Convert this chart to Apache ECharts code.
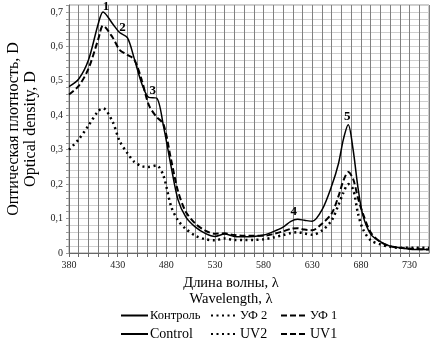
<!DOCTYPE html>
<html>
<head>
<meta charset="utf-8">
<script src="https://cdn.jsdelivr.net/npm/echarts@6/dist/echarts.min.js"></script>
<style>
  html, body { margin: 0; padding: 0; background: #fff; }
  #chart { width: 438px; height: 343px; }
</style>
</head>
<body>
<div id="chart"></div>
<script>
"use strict";

// длины волн, нм
var wavelengths = [380, 390, 400, 410, 415, 425, 432, 440, 447, 455, 462, 470, 477, 485, 492, 500,
  510, 520, 530, 540, 550, 560, 570, 580, 590, 600, 608, 615, 622, 630, 640, 650, 657, 662, 667,
  672, 677, 682, 690, 700, 710, 720, 735, 750];

// Контроль / Control
var control = [0.483, 0.505, 0.56, 0.665, 0.70, 0.665, 0.64, 0.625, 0.565, 0.49, 0.452, 0.45, 0.37, 0.25,
  0.155, 0.105, 0.075, 0.057, 0.048, 0.055, 0.048, 0.047, 0.048, 0.052, 0.062, 0.075, 0.092, 0.098,
  0.095, 0.092, 0.125, 0.195, 0.26, 0.33, 0.372, 0.30, 0.19, 0.11, 0.055, 0.033, 0.02, 0.015, 0.01, 0.01];

// УФ 2 / UV2
var uv2 = [0.30, 0.33, 0.37, 0.412, 0.42, 0.38, 0.325, 0.29, 0.265, 0.252, 0.25, 0.254, 0.225, 0.135,
  0.095, 0.07, 0.05, 0.04, 0.037, 0.042, 0.038, 0.038, 0.038, 0.04, 0.045, 0.052, 0.058, 0.06,
  0.057, 0.053, 0.065, 0.095, 0.14, 0.175, 0.20, 0.185, 0.115, 0.07, 0.037, 0.025, 0.018, 0.015, 0.015, 0.015];

// УФ 1 / UV1
var uv1 = [0.46, 0.485, 0.535, 0.62, 0.66, 0.625, 0.59, 0.575, 0.562, 0.50, 0.43, 0.395, 0.375, 0.27,
  0.18, 0.12, 0.085, 0.065, 0.056, 0.057, 0.052, 0.05, 0.05, 0.05, 0.055, 0.063, 0.07, 0.072,
  0.068, 0.066, 0.085, 0.115, 0.165, 0.21, 0.235, 0.215, 0.16, 0.115, 0.06, 0.032, 0.02, 0.015, 0.012, 0.01];

var namesRu = ["Контроль", "УФ 2", "УФ 1"];
var namesEn = ["Control", "UV2", "UV1"];

// номера пиков: [подпись, длина волны, D]
var peakMarks = [["1", 418, 0.714], ["2", 435, 0.655], ["3", 466, 0.472], ["4", 611, 0.119], ["5", 666, 0.396]];

var serif = "'Liberation Serif', 'DejaVu Serif', serif";

function pairs(ys) {
  return wavelengths.map(function (x, i) { return [x, ys[i]]; });
}

var styles = [
  { width: 1.5, type: "solid" },
  { width: 2.5, type: [2, 3.5] },
  { width: 2, type: [6, 3] }
];
var values = [control, uv2, uv1];

var series = [];
namesRu.forEach(function (name, i) {
  var s = {
    name: name,
    type: "line",
    smooth: 0.3,
    symbol: "none",
    clip: false,
    data: pairs(values[i]),
    lineStyle: { color: "#000", width: styles[i].width, type: styles[i].type },
    itemStyle: { color: "#000" }
  };
  if (i === 0) {
    s.markPoint = {
      symbol: "circle",
      symbolSize: 0,
      label: {
        show: true, position: "inside", formatter: "{b}",
        fontFamily: serif, fontWeight: "bold", fontSize: 13, color: "#000"
      },
      data: peakMarks.map(function (p) { return { name: p[0], coord: [p[1], p[2]] }; })
    };
  }
  series.push(s);
});
// английские подписи легенды
namesEn.forEach(function (name, i) {
  series.push({
    name: name,
    type: "line",
    symbol: "none",
    data: [],
    lineStyle: { color: "#000", width: styles[i].width, type: styles[i].type },
    itemStyle: { color: "#000" }
  });
});

// одна легенда на каждую подпись, как в Excel
var legendCols = [120, 210, 280];
var legendRows = [309, 327];
function legendItem(name, col, row) {
  return {
    left: legendCols[col], top: legendRows[row], orient: "horizontal", padding: 0,
    itemWidth: 27, itemHeight: 12, itemGap: 0,
    itemStyle: { opacity: 0 },
    data: [name],
    textStyle: { fontFamily: serif, fontSize: row === 0 ? 12.5 : 14, color: "#000", padding: [0, 0, 0, -3] }
  };
}
var legends = [];
namesRu.forEach(function (n, i) { legends.push(legendItem(n, i, 0)); });
namesEn.forEach(function (n, i) { legends.push(legendItem(n, i, 1)); });

var chart = echarts.init(document.getElementById("chart"));
chart.setOption({
  animation: false,
  grid: {
    left: 69, right: 9, top: 5, bottom: 90, outerBoundsMode: "none",
    show: true, borderColor: "#999", borderWidth: 1
  },
  legend: legends,
  xAxis: {
    type: "value", min: 380, max: 750, interval: 10,
    name: "Длина волны, λ\nWavelength, λ",
    nameLocation: "middle", nameGap: 22,
    nameTextStyle: { fontFamily: serif, fontSize: 14.5, color: "#000", lineHeight: 16, padding: [0, 36, 0, 0] },
    axisLine: { lineStyle: { color: "#666" } },
    axisTick: { show: true, length: 4, lineStyle: { color: "#666" } },
    axisLabel: {
      fontFamily: serif, fontSize: 10, color: "#222", margin: 7, showMaxLabel: false,
      formatter: function (v) { return ((v - 380) % 50 === 0 && v <= 730) ? String(v) : ""; }
    },
    splitLine: { show: true, lineStyle: { color: "#808080", width: 1 } }
  },
  yAxis: {
    type: "value", min: 0, max: 0.72, interval: 0.02,
    name: "Оптическая плотность, D\nOptical density, D",
    nameLocation: "middle", nameGap: 30,
    nameTextStyle: { fontFamily: serif, fontSize: 16, color: "#000", lineHeight: 17 },
    axisLine: { show: true, lineStyle: { color: "#666" } },
    axisTick: { show: true, length: 3, lineStyle: { color: "#999" } },
    axisLabel: {
      fontFamily: serif, fontSize: 10, color: "#222", margin: 6,
      formatter: function (v) {
        var t = Math.round(v * 10);
        if (Math.abs(v * 10 - t) > 1e-6) { return ""; }
        return String(t / 10).replace(".", ",");
      }
    },
    splitLine: { show: true, lineStyle: { color: "#cfcfcf", width: 1 } }
  },
  series: series
});
</script>
</body>
</html>
